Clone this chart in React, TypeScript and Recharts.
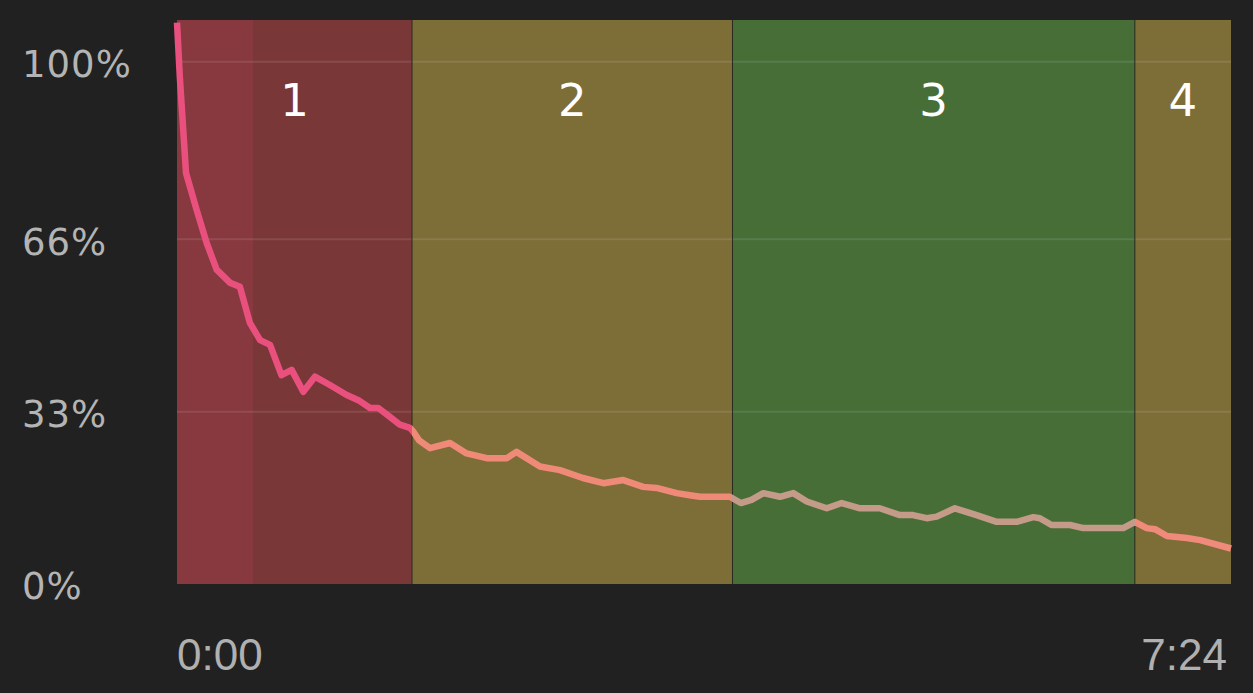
import React from "react";
import {
  LineChart,
  Line,
  XAxis,
  YAxis,
  ReferenceArea,
  ReferenceLine,
} from "recharts";

// elapsed seconds and recovery %
const timeSec = [
  0, 1.2, 3.8, 8.3, 12.5, 16.7, 22.3, 26.5, 30.7, 35, 39.2, 44, 48.3, 53.2, 58.1,
  64.4, 71.5, 76.4, 81.3, 84.8, 89.7, 93.9, 98.1, 99.5, 102, 106.6, 115, 122,
  130.5, 139, 143, 152.9, 161.3, 171, 179.6, 188, 196.4, 202, 210.5, 216, 220.3,
  232.9, 237.5, 242, 247, 254, 259.6, 265.3, 273.7, 280, 287.7, 296, 304.5, 310,
  315.8, 320, 327.7, 336.8, 345.3, 353.7, 360.7, 363.5, 368.4, 376.2, 381.8,
  398.6, 403.5, 408.5, 412, 417, 425.4, 431, 444,
];
const recovery = [
  107.5, 97, 78.7, 71.6, 65.3, 60.2, 57.7, 56.9, 50, 46.7, 45.8, 40, 41, 36.8,
  39.7, 38.1, 36.2, 35.2, 33.7, 33.7, 32, 30.5, 29.9, 29.2, 27.5, 26, 27, 25,
  24.1, 24.1, 25.3, 22.5, 21.8, 20.3, 19.3, 19.9, 18.6, 18.4, 17.4, 17, 16.7,
  16.7, 15.5, 16.1, 17.4, 16.7, 17.4, 15.8, 14.5, 15.5, 14.5, 14.5, 13.2, 13.2,
  12.6, 12.9, 14.5, 13.2, 11.9, 11.9, 12.8, 12.6, 11.3, 11.3, 10.7, 10.7, 11.9,
  10.7, 10.5, 9.2, 8.8, 8.4, 6.8,
];

const zoneNames = ["1", "2", "3", "4"];
const zoneStart = [0, 99, 234, 403.5];
const zoneEnd = [99, 234, 403.5, 444];
const zoneFill = ["#7a3737", "#7d6e38", "#476e37", "#7d6e38"];
const lineColor = ["#e9507e", "#ef8a78", "#c49a88", "#f08a7a"];

const yTicks = [0, 33, 66, 100];
const xTicks = [0, 444];
const totalSec = 444;

const data = timeSec.map((t, i) => ({ t, v: recovery[i] }));

const fmtTime = (s: number) => {
  const m = Math.floor(s / 60);
  const sec = Math.round(s - m * 60);
  return `${m}:${sec < 10 ? "0" : ""}${sec}`;
};

const YTick = (props: any) => {
  const { y, payload } = props;
  return (
    <text
      x={22}
      y={y + 2}
      dy="0.36em"
      textAnchor="start"
      fill="#b4b4b4"
      fontSize={37}
      fontFamily="DejaVu Sans"
      letterSpacing={1}
    >
      {payload.value}%
    </text>
  );
};

const XTick = (props: any) => {
  const { x, payload } = props;
  const first = payload.value === 0;
  return (
    <text
      x={first ? x : x - 4}
      y={670}
      textAnchor={first ? "start" : "end"}
      fill="#b0b0b0"
      fontSize={44}
      fontFamily="Liberation Sans"
    >
      {fmtTime(payload.value)}
    </text>
  );
};

export default function App() {
  const stops: React.ReactNode[] = [];
  zoneStart.forEach((s, i) => {
    stops.push(
      <stop key={`a${i}`} offset={s / totalSec} stopColor={lineColor[i]} />,
      <stop key={`b${i}`} offset={zoneEnd[i] / totalSec} stopColor={lineColor[i]} />
    );
  });

  return (
    <div style={{ position: "absolute", left: 0, top: 0, width: 1253, height: 693, background: "#212121" }}>
      <LineChart
        width={1253}
        height={693}
        data={data}
        margin={{ top: 20, right: 22, bottom: 0, left: 0 }}
      >
        <defs>
          <linearGradient id="hrLine" x1="0" y1="0" x2="1" y2="0">
            {stops}
          </linearGradient>
        </defs>
        <XAxis
          type="number"
          dataKey="t"
          domain={[0, totalSec]}
          ticks={xTicks}
          axisLine={false}
          tickLine={false}
          height={109}
          tick={<XTick />}
        />
        <YAxis
          domain={[0, 108]}
          ticks={yTicks}
          axisLine={false}
          tickLine={false}
          width={177}
          tick={<YTick />}
        />
        {zoneNames.map((z, i) => (
          <ReferenceArea
            key={z}
            x1={zoneStart[i]}
            x2={zoneEnd[i]}
            y1={0}
            y2={108}
            fill={zoneFill[i]}
            fillOpacity={1}
            stroke="none"
            label={{
              value: z,
              position: "insideTop",
              offset: 64,
              fill: "#ffffff",
              fontSize: 45,
              fontFamily: "DejaVu Sans",
            }}
          />
        ))}
        <ReferenceArea x1={0} x2={32} y1={0} y2={108} fill="#a04050" fillOpacity={0.35} stroke="none" />
        {yTicks.slice(1).map((v) => (
          <ReferenceLine key={v} y={v} stroke="#ffffff" strokeOpacity={0.1} strokeWidth={2} />
        ))}
        {zoneStart.slice(1).map((s) => (
          <ReferenceLine key={s} x={s} stroke="#2b2b22" strokeWidth={1} />
        ))}
        <Line
          type="linear"
          dataKey="v"
          stroke="url(#hrLine)"
          strokeWidth={6.5}
          strokeLinejoin="round"
          dot={false}
          isAnimationActive={false}
        />
      </LineChart>
    </div>
  );
}
